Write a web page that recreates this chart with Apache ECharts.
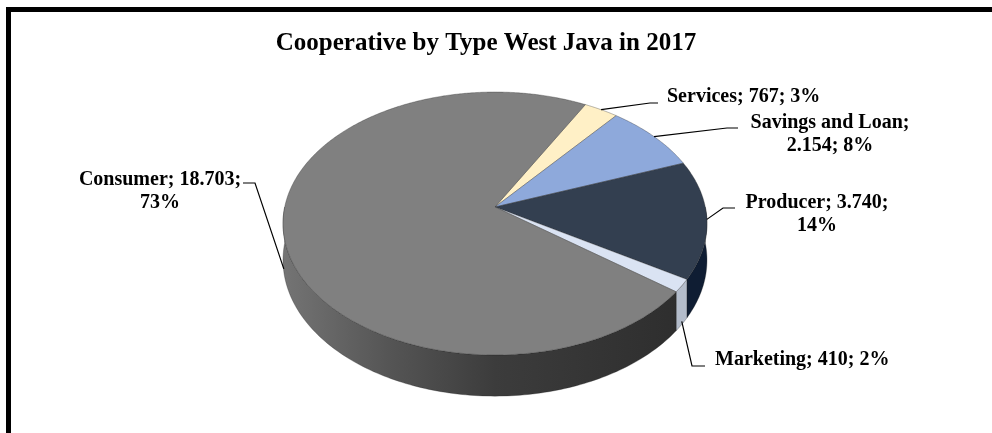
<!DOCTYPE html>
<html><head><meta charset="utf-8">
<script src="https://cdn.jsdelivr.net/npm/echarts@6/dist/echarts.min.js"></script>
<style>html,body{margin:0;padding:0;background:#fff}#c{width:992px;height:433px}</style>
</head><body><div id="c"></div>
<script>
// ---- data ----
const chartTitle = 'Cooperative by Type West Java in 2017';
const categories = ['Services', 'Savings and Loan', 'Producer', 'Marketing', 'Consumer'];
const values = [767, 2154, 3740, 410, 18703];
const firstSliceAngle = 28.5; // degrees clockwise from 12 o'clock

// ---- styles ----
const topColors = ['#FFF0C6', '#8EA9DB', '#333F50', '#DAE3F3', '#808080'];
const wallColors = ['#d9c99a', '#6c84b0', '#0f1d33', '#b3bccb', null];
const FONT = '"Liberation Serif", "Times New Roman", serif';

// ---- geometry (perspective projection of the pie disk) ----
const G = {cx: 495, cy: 207, A: 210.3, B: 129.4, k: 0.1255, H: 36};
function proj(deg, down) {
  const r = deg * Math.PI / 180, u = Math.sin(r), v = -Math.cos(r), w = 1 - G.k * v;
  return [G.cx + G.A * u / w, G.cy + G.B * v / w + (down || 0) * G.H / w];
}
const total = values.reduce((a, b) => a + b, 0);
const starts = [], ends = [];
let acc = firstSliceAngle;
values.forEach(v => { starts.push(acc); acc += v / total * 360; ends.push(acc); });

// percentages rounded so that they sum to 100 (largest remainder)
const pcts = (function () {
  const raw = values.map(v => v / total * 100);
  const fl = raw.map(Math.floor);
  let left = 100 - fl.reduce((a, b) => a + b, 0);
  const order = raw.map((r, i) => [r - fl[i], i]).sort((a, b) => b[0] - a[0]);
  for (let j = 0; j < left; j++) fl[order[j][1]] += 1;
  return fl;
})();

const labelLayout = {
  'Services':         {on: 'top',  path: [[650, 103], [658, 103]], text: [667, 97],  align: 'left',   brk: 'none'},
  'Savings and Loan': {on: 'top',  path: [[727, 128], [738, 128]], text: [830, 123], align: 'center', brk: 'name'},
  'Producer':         {on: 'top',  path: [[723, 208], [735, 208]], text: [817, 203], align: 'center', brk: 'pct'},
  'Marketing':        {on: 'side', path: [[692, 366], [705, 366]], text: [715, 360], align: 'left',   brk: 'none'},
  'Consumer':         {on: 'side', path: [[255, 183], [243, 183]], text: [160, 180], align: 'center', brk: 'pct'}
};
const fmt = v => String(v).replace(/\B(?=(\d{3})+(?!\d))/g, '.');

function wallItem(params, api) {
  const i = params.dataIndex;
  const lo = Math.max(starts[i], 90), hi = Math.min(ends[i], 270);
  if (hi <= lo) return null;
  const pts = [];
  for (let t = lo; t < hi; t += 1) pts.push(proj(t, 0));
  pts.push(proj(hi, 0));
  for (let t = hi; t > lo; t -= 1) pts.push(proj(t, 1));
  pts.push(proj(lo, 1));
  let fill = wallColors[i];
  if (!fill) {
    fill = {type: 'linear', x: G.cx - 212, y: 0, x2: G.cx + 212, y2: 0, global: true,
      colorStops: [{offset: 0, color: '#747474'}, {offset: 0.25, color: '#555555'},
                   {offset: 0.5, color: '#3c3c3c'}, {offset: 1, color: '#2c2c2c'}]};
  }
  return {type: 'polygon', shape: {points: pts}, style: {fill: fill, stroke: 'rgba(30,30,30,0.5)', lineWidth: 0.6}};
}

function topItem(params, api) {
  const i = params.dataIndex;
  const pts = [[G.cx, G.cy]];
  for (let t = starts[i]; t < ends[i]; t += 0.5) pts.push(proj(t, 0));
  pts.push(proj(ends[i], 0));
  return {type: 'polygon', shape: {points: pts},
    style: {fill: topColors[i], stroke: 'rgba(40,40,40,0.55)', lineWidth: 0.6, lineJoin: 'round'}};
}

function labelItem(params, api) {
  const i = params.dataIndex;
  const name = categories[i], val = api.value(0);
  const L = labelLayout[name];
  const pct = pcts[i] + '%';
  let txt;
  if (L.brk === 'pct') txt = name + '; ' + fmt(val) + ';\n' + pct;
  else if (L.brk === 'name') txt = name + ';\n' + fmt(val) + '; ' + pct;
  else txt = name + '; ' + fmt(val) + '; ' + pct;
  const mid = (starts[i] + ends[i]) / 2;
  const a = L.on === 'top' ? proj(mid, 0) : proj(mid, 0.92);
  const lh = 23;
  return {type: 'group', children: [
    {type: 'polyline', shape: {points: [a].concat(L.path)}, style: {stroke: '#000', lineWidth: 1.2, fill: null}},
    {type: 'text', x: L.text[0], y: L.text[1] - lh / 2,
      style: {text: txt, fill: '#000', font: 'bold 20px ' + FONT, align: L.align, verticalAlign: 'top', lineHeight: lh}}
  ]};
}

const chart = echarts.init(document.getElementById('c'));
chart.setOption({
  animation: false,
  backgroundColor: '#fff',
  graphic: [
    {type: 'rect', shape: {x: 6, y: 7, width: 986, height: 5}, style: {fill: '#000'}},
    {type: 'rect', shape: {x: 6, y: 7, width: 5, height: 426}, style: {fill: '#000'}},
    {type: 'text', x: 486, y: 44, style: {text: chartTitle, font: 'bold 25px ' + FONT, fill: '#000', align: 'center', verticalAlign: 'middle'}}
  ],
  series: [
    {type: 'custom', coordinateSystem: 'none', renderItem: wallItem, data: values, z: 1, silent: true},
    {type: 'custom', coordinateSystem: 'none', renderItem: topItem, data: values, z: 2, silent: true},
    {type: 'custom', coordinateSystem: 'none', renderItem: labelItem, data: values, z: 3, silent: true}
  ]
});
</script></body></html>
